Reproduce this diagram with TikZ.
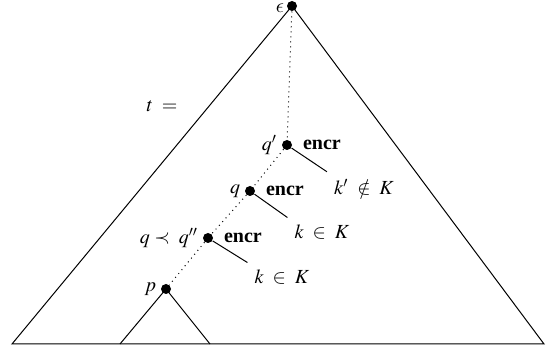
\documentclass[tikz,border=0pt]{standalone}
\usepackage{mathptmx}
\usepackage{fontspec}
\setmainfont{Liberation Serif}
\usetikzlibrary{positioning}
\DeclareSymbolFont{cmletters}{OML}{cmm}{m}{it}
\DeclareMathSymbol{\lunate}{\mathord}{cmletters}{"0F}

\begin{document}
\begin{tikzpicture}[
        x=0.5pt, y=-0.5pt,
        line width=0.5pt,
        dot/.style={circle, fill, inner sep=0pt, minimum size=5pt},
        trail/.style={dotted},
        encr/.style={label={[label distance=3pt]right:\textbf{encr}}},
        every label/.style={inner sep=2pt}
    ]
        \useasboundingbox (0,0) rectangle (546,351);

        % the tree t
        \node[dot, label={[inner sep=1pt, yshift=-1pt]left:$\lunate$}] (root) at (292,6) {};
        \coordinate (bl) at (12,344);
        \coordinate (br) at (544,344);
        \draw (bl) -- (root.center) -- (br) -- cycle;
        \node (teq) at (162,106) {$t\;=$};

        % positions on the path to p
        \node[dot, encr, label=left:$q'$] (qp) at (287,145) {};
        \node[dot, encr, label=left:$q$] (q) at (250,191) {};
        \node[dot, encr, label=left:{$q \prec\; q''$}] (qpp) at (208,238) {};
        \node[dot, label=left:$p$] (p) at (166,289) {};
        \draw[trail] (root) -- (qp) -- (q) -- (qpp) -- (p);

        % subtree at p
        \coordinate (pl) at (120,344);
        \coordinate (pr) at (210,344);
        \draw (pl) -- (p.center) -- (pr);

        % keys
        \node (kqp) at (364,187) {$k' \;\notin\; K$};
        \node (kq) at (322,232) {$k \;\in\; K$};
        \node (kqpp) at (282,277) {$k \;\in\; K$};
        \draw (qp) -- (kqp.north west);
        \draw (q) -- (kq.north west);
        \draw (qpp) -- (kqpp.north west);
    \end{tikzpicture}
\end{document}
